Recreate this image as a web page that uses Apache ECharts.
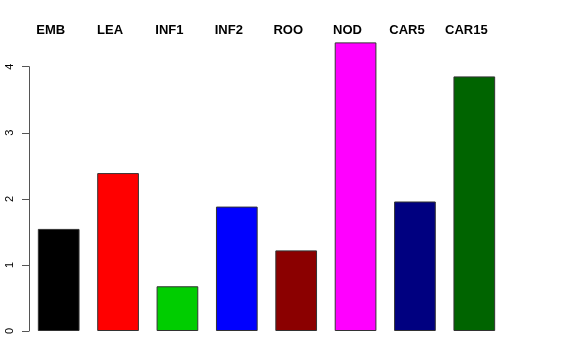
<!DOCTYPE html>
<html><head><meta charset="utf-8">
<script src="https://cdn.jsdelivr.net/npm/echarts@6/dist/echarts.min.js"></script>
<style>html,body{margin:0;padding:0;background:#fff}#c{width:576px;height:360px}</style>
</head><body><div id="c"></div>
<script>
const categories = ['EMB','LEA','INF1','INF2','ROO','NOD','CAR5','CAR15'];
const values = [1.545, 2.39, 0.677, 1.883, 1.22, 4.368, 1.96, 3.853];
const barColors = ['#000000','#FF0000','#00CD00','#0000FF','#8B0000','#FF00FF','#000080','#006400'];
const yTicks = [0, 1, 2, 3, 4];

const chart = echarts.init(document.getElementById('c'), null, {renderer:'canvas'});
const pxPerUnit = (331 - 66.7) / 4;
const yMax1 = 4.5;
chart.setOption({
  animation: false,
  backgroundColor: '#fff',
  grid: [
    {left: 29, width: 475, top: 331 - yMax1 * pxPerUnit, height: yMax1 * pxPerUnit},
    {left: 29, width: 475, top: 66.7, height: 331 - 66.7}
  ],
  xAxis: [
    {type: 'category', gridIndex: 0, data: categories, show: false},
    {type: 'category', gridIndex: 1, data: categories, position: 'top',
     axisLine: {show: false}, axisTick: {show: false},
     axisLabel: {fontFamily: 'Liberation Sans', fontWeight: 'bold', fontSize: 13, color: '#000',
                 margin: 30, padding: [0, 16, 0, 0], interval: 0}}
  ],
  yAxis: [
    {type: 'value', gridIndex: 0, min: 0, max: yMax1, show: false},
    {type: 'value', gridIndex: 1, min: yTicks[0], max: yTicks[yTicks.length - 1], interval: 1,
     axisLine: {show: true, lineStyle: {color: '#555', width: 1}},
     axisTick: {show: true, length: 7, lineStyle: {color: '#555'}},
     splitLine: {show: false},
     axisLabel: {rotate: 90, fontFamily: 'Liberation Sans', fontSize: 11, color: '#000', margin: 14}}
  ],
  series: [{
    type: 'bar', xAxisIndex: 0, yAxisIndex: 0, barWidth: 41.7,
    data: values.map((v, i) => ({value: v, itemStyle: {color: barColors[i]}})),
    itemStyle: {borderColor: '#333', borderWidth: 1}
  }]
});
</script></body></html>
